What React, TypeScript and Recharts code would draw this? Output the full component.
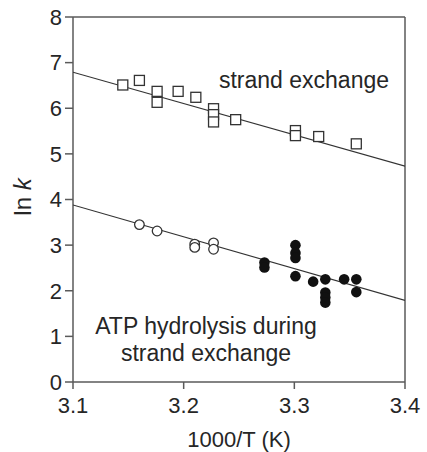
import React from "react";
import {
  ComposedChart,
  Scatter,
  XAxis,
  YAxis,
  ReferenceLine,
} from "recharts";

// strand exchange (open squares)
const strandX = [3.145, 3.16, 3.176, 3.176, 3.195, 3.211, 3.227, 3.227, 3.227, 3.247, 3.301, 3.301, 3.322, 3.356];
const strandY = [6.51, 6.61, 6.37, 6.13, 6.37, 6.24, 5.99, 5.86, 5.7, 5.75, 5.51, 5.4, 5.38, 5.22];

// ATP hydrolysis, open circles
const atpOpenX = [3.16, 3.176, 3.21, 3.21, 3.227, 3.227];
const atpOpenY = [3.45, 3.31, 3.02, 2.95, 3.05, 2.91];

// ATP hydrolysis, filled circles
const atpFilledX = [3.273, 3.273, 3.301, 3.301, 3.301, 3.301, 3.317, 3.328, 3.328, 3.328, 3.328, 3.345, 3.356, 3.356];
const atpFilledY = [2.62, 2.51, 3.0, 2.83, 2.72, 2.32, 2.2, 2.25, 1.96, 1.85, 1.74, 2.25, 2.25, 1.97];

// fitted lines, end points
const fitX = [3.1, 3.4];
const fitStrandY = [6.79, 4.73];
const fitAtpY = [3.88, 1.79];

const xTicks = [3.1, 3.2, 3.3, 3.4];
const yTicks = [0, 1, 2, 3, 4, 5, 6, 7, 8];

const zip = (xs: number[], ys: number[]) => xs.map((x, i) => ({ x, y: ys[i] }));

const FONT = "'Liberation Sans', Arial, sans-serif";
const TEXT = "#262626";
const AXIS = "#5a5a5a";

const Square = (p: any) => (
  <rect x={p.cx - 5} y={p.cy - 5} width={10} height={10} fill="#fff" stroke="#333" strokeWidth={1.3} />
);
const OpenCircle = (p: any) => (
  <circle cx={p.cx} cy={p.cy} r={4.8} fill="#fff" stroke="#333" strokeWidth={1.3} />
);
const FilledCircle = (p: any) => <circle cx={p.cx} cy={p.cy} r={5.3} fill="#111" />;
const NoDot = () => <g />;

export default function App() {
  return (
    <div style={{ position: "absolute", left: 0, top: 0, fontFamily: FONT }}>
      <ComposedChart
        width={427}
        height={452}
        margin={{ top: 17, right: 22, left: 0, bottom: 0 }}
      >
        <XAxis
          type="number"
          dataKey="x"
          domain={[3.1, 3.4]}
          ticks={xTicks}
          tickFormatter={(v) => v.toFixed(1)}
          height={70}
          stroke={AXIS}
          strokeWidth={1.5}
          tickSize={7}
          tickMargin={8}
          tick={{ fill: TEXT, fontSize: 22, fontFamily: FONT }}
          allowDataOverflow
          label={{
            value: "1000/T (K)",
            position: "insideBottom",
            offset: 5,
            fill: TEXT,
            fontSize: 22,
            fontFamily: FONT,
          }}
        />
        <YAxis
          type="number"
          dataKey="y"
          domain={[0, 8]}
          ticks={yTicks}
          width={73}
          stroke={AXIS}
          strokeWidth={1.5}
          tickSize={8}
          tickMargin={3}
          tick={{ fill: TEXT, fontSize: 22, fontFamily: FONT }}
          allowDataOverflow
          label={{
            content: () => (
              <text
                x={31}
                y={197}
                transform="rotate(-90,31,197)"
                textAnchor="middle"
                fill={TEXT}
                fontSize={24}
                fontFamily={FONT}
              >
                ln <tspan fontStyle="italic">k</tspan>
              </text>
            ),
          }}
        />
        <ReferenceLine y={8} stroke={AXIS} strokeWidth={1.5} />
        <ReferenceLine x={3.4} stroke={AXIS} strokeWidth={1.5} />

        <Scatter
          data={zip(fitX, fitStrandY)}
          line={{ stroke: "#333", strokeWidth: 1.2 }}
          shape={NoDot}
          isAnimationActive={false}
        />
        <Scatter
          data={zip(fitX, fitAtpY)}
          line={{ stroke: "#333", strokeWidth: 1.2 }}
          shape={NoDot}
          isAnimationActive={false}
        />
        <Scatter data={zip(strandX, strandY)} shape={Square} isAnimationActive={false} />
        <Scatter data={zip(atpOpenX, atpOpenY)} shape={OpenCircle} isAnimationActive={false} />
        <Scatter data={zip(atpFilledX, atpFilledY)} shape={FilledCircle} isAnimationActive={false} />
      </ComposedChart>
      <svg
        width={427}
        height={452}
        style={{ position: "absolute", left: 0, top: 0, pointerEvents: "none" }}
      >
        <g fill={TEXT} fontSize={23} fontFamily={FONT} textAnchor="middle">
          <text x={304} y={88}>strand exchange</text>
          <text x={206} y={334}>ATP hydrolysis during</text>
          <text x={206} y={361}>strand exchange</text>
        </g>
      </svg>
    </div>
  );
}
